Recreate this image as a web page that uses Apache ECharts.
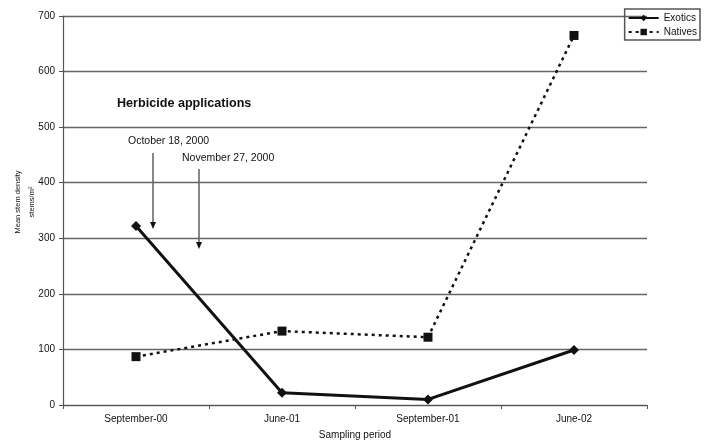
<!DOCTYPE html>
<html>
<head>
<meta charset="utf-8">
<script src="https://cdn.jsdelivr.net/npm/echarts@6/dist/echarts.min.js"></script>
<style>
  html, body { margin: 0; padding: 0; background: #fff; }
  #chart { width: 705px; height: 443px; }
</style>
</head>
<body>
<div id="chart"></div>
<script>
var dom = document.getElementById('chart');
var chart = echarts.init(dom, null, { renderer: 'canvas' });

// sampling periods and mean stem densities
const periods = ['September-00', 'June-01', 'September-01', 'June-02'];
const exotics = [322, 22, 10, 99];
const natives = [87, 133, 122, 665];
const yTicks = [0, 100, 200, 300, 400, 500, 600, 700];

var font = 'Liberation Sans, Arial, sans-serif';

var option = {
  animation: false,
  backgroundColor: '#fff',
  grid: { left: 63, right: 58, top: 16, bottom: 38, containLabel: false, outerBoundsMode: 'none' },
  legend: {
    orient: 'vertical',
    right: 5,
    top: 9,
    itemWidth: 30,
    itemHeight: 8,
    itemGap: 4,
    padding: [4, 3, 3, 3],
    borderColor: '#555',
    borderWidth: 1.5,
    textStyle: { fontFamily: font, fontSize: 10, color: '#111' },
    data: ['Exotics', 'Natives']
  },
  xAxis: {
    type: 'category',
    data: periods,
    boundaryGap: true,
    name: 'Sampling period',
    nameLocation: 'middle',
    nameGap: 25,
    nameTextStyle: { fontFamily: font, fontSize: 10, color: '#111' },
    axisLine: { lineStyle: { color: '#555', width: 1.2 } },
    axisTick: { show: true, length: 4, lineStyle: { color: '#555' } },
    axisLabel: { fontFamily: font, fontSize: 10, color: '#111', margin: 9 }
  },
  yAxis: {
    type: 'value',
    min: 0,
    max: yTicks[yTicks.length - 1],
    interval: 100,
    axisLine: { show: true, lineStyle: { color: '#555', width: 1.2 } },
    axisTick: { show: true, length: 4, lineStyle: { color: '#555' } },
    axisLabel: { fontFamily: font, fontSize: 10, color: '#111', margin: 8 },
    splitLine: { show: true, lineStyle: { color: '#666', width: 1.3 } }
  },
  series: [
    {
      name: 'Exotics',
      type: 'line',
      data: exotics,
      symbol: 'diamond',
      symbolSize: 10,
      itemStyle: { color: '#111' },
      lineStyle: { color: '#111', width: 3 },
      z: 3
    },
    {
      name: 'Natives',
      type: 'line',
      data: natives,
      symbol: 'rect',
      symbolSize: 9,
      itemStyle: { color: '#111' },
      lineStyle: { color: '#111', width: 2.5, type: [3, 4] },
      z: 2
    }
  ],
  graphic: [
    {
      // y-axis title, rotated
      type: 'text', x: 24.5, y: 202, rotation: Math.PI / 2,
      style: {
        text: 'Mean stem density\nstems/m²',
        font: '7.5px ' + font, fill: '#111',
        align: 'center', verticalAlign: 'middle', lineHeight: 14
      }
    },
    {
      type: 'text', left: 117, top: 97,
      style: { text: 'Herbicide applications', font: 'bold 12.6px ' + font, fill: '#111' }
    },
    {
      type: 'text', left: 128, top: 136,
      style: { text: 'October 18, 2000', font: '10.5px ' + font, fill: '#111' }
    },
    {
      type: 'text', left: 182, top: 153,
      style: { text: 'November 27, 2000', font: '10.5px ' + font, fill: '#111' }
    },
    {
      type: 'line',
      shape: { x1: 153, y1: 153, x2: 153, y2: 226 },
      style: { stroke: '#111', lineWidth: 1 }
    },
    {
      type: 'polygon',
      shape: { points: [[150, 222], [156, 222], [153, 229]] },
      style: { fill: '#111' }
    },
    {
      type: 'line',
      shape: { x1: 199, y1: 169, x2: 199, y2: 246 },
      style: { stroke: '#111', lineWidth: 1 }
    },
    {
      type: 'polygon',
      shape: { points: [[196, 242], [202, 242], [199, 249]] },
      style: { fill: '#111' }
    }
  ]
};

chart.setOption(option);
window.addEventListener('resize', chart.resize);
</script>
</body>
</html>
